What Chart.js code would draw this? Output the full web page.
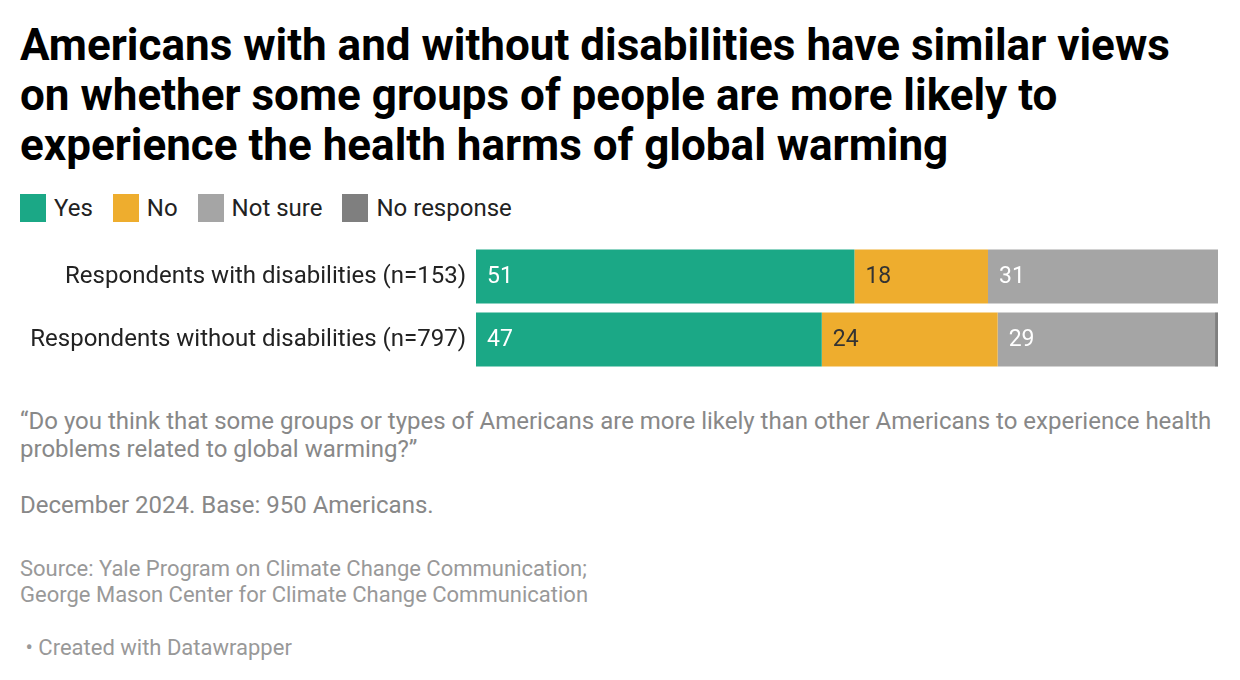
<!DOCTYPE html>
<html lang="en">
<head>
    <title>Disabilities and health harms of global warming</title>
    <script src="https://cdn.jsdelivr.net/npm/chart.js"></script>
    <style>
        body {
            margin: 0;
            background: #ffffff;
            font-family: Roboto, 'Noto Sans', sans-serif;
            width: 1240px;
            height: 680px;
            position: relative;
            overflow: hidden;
        }
        h1 {
            position: absolute;
            left: 20px;
            top: 20px;
            width: 1215px;
            margin: 0;
            font-size: 44px;
            line-height: 50px;
            font-weight: 700;
            color: #000;
        }
        .legend {
            position: absolute;
            left: 20px;
            top: 194px;
            display: flex;
            gap: 20px;
            font-size: 24px;
            color: #222;
        }
        .legend-item { display: flex; align-items: center; }
        .legend-color { width: 26px; height: 28px; margin-right: 8px; }
        #barChart {
            position: absolute;
            left: 20px;
            top: 245px;
        }
        .note {
            position: absolute;
            left: 20px;
            color: #888;
            font-size: 24px;
            line-height: 28px;
            width: 1210px;
        }
    </style>
</head>
<body>
    <h1>Americans with and without disabilities have similar views<br>on whether some groups of people are more likely to<br>experience the health harms of global warming</h1>
    <div class="legend" id="legend"></div>
    <canvas id="barChart" width="1198" height="126"></canvas>
    <div class="note" style="top: 407px;">“Do you think that some groups or types of Americans are more likely than other Americans to experience health problems related to global warming?”</div>
    <div class="note" style="top: 491px;">December 2024. Base: 950 Americans.</div>
    <div class="note" style="top: 556px; font-size: 22px; line-height: 26px; color: #999;">Source: Yale Program on Climate Change Communication;<br>George Mason Center for Climate Change Communication</div>
    <div class="note" style="top: 634px; font-size: 22px; color: #999;">&nbsp;• Created with Datawrapper</div>

    <script>
        const categories = ['Respondents with disabilities (n=153)', 'Respondents without disabilities (n=797)'];
        const seriesNames = ['Yes', 'No', 'Not sure', 'No response'];
        const yesValues = [51, 46.6];
        const noValues = [18, 23.7];
        const notSureValues = [31, 29.3];
        const noResponseValues = [0, 0.4];
        const colors = ['#1ba886', '#eead2e', '#a5a5a5', '#7f7f7f'];
        const labelColors = ['#ffffff', '#333333', '#ffffff', '#ffffff'];

        const allValues = [yesValues, noValues, notSureValues, noResponseValues];

        // Etiquetas de valor dentro de las barras
        const segmentLabels = {
            id: 'segmentLabels',
            afterDatasetsDraw(chart) {
                const ctx = chart.ctx;
                ctx.save();
                ctx.font = '23px Roboto';
                ctx.textBaseline = 'middle';
                ctx.textAlign = 'left';
                chart.data.datasets.forEach((ds, i) => {
                    const meta = chart.getDatasetMeta(i);
                    meta.data.forEach((bar, j) => {
                        const v = ds.data[j];
                        if (v < 5) return;
                        ctx.fillStyle = labelColors[i];
                        const left = Math.min(bar.x, bar.base);
                        ctx.fillText(Math.round(v), left + 11, bar.y + 1);
                    });
                });
                ctx.restore();
            }
        };

        const ctx = document.getElementById('barChart').getContext('2d');
        const chart = new Chart(ctx, {
            type: 'bar',
            data: {
                labels: categories,
                datasets: seriesNames.map((name, i) => ({
                    label: name,
                    data: allValues[i],
                    backgroundColor: colors[i],
                    borderWidth: 0,
                    categoryPercentage: 0.86,
                    barPercentage: 1.0
                }))
            },
            options: {
                indexAxis: 'y',
                responsive: false,
                animation: false,
                layout: { padding: 0 },
                plugins: {
                    legend: { display: false },
                    tooltip: { enabled: false }
                },
                scales: {
                    x: {
                        stacked: true,
                        min: 0,
                        max: 100,
                        display: false
                    },
                    y: {
                        stacked: true,
                        grid: { display: false },
                        border: { display: false },
                        afterFit(scale) {
                            scale.width = 456;
                            scale.paddingTop = 0;
                            scale.paddingBottom = 0;
                        },
                        ticks: {
                            color: '#222',
                            padding: 2,
                            font: { size: 24, family: 'Roboto' }
                        }
                    }
                }
            },
            plugins: [segmentLabels]
        });

        // Leyenda
        const legend = document.getElementById('legend');
        seriesNames.forEach((name, i) => {
            const item = document.createElement('div');
            item.className = 'legend-item';
            item.innerHTML = `<div class="legend-color" style="background:${colors[i]};"></div><span>${name}</span>`;
            legend.appendChild(item);
        });
    </script>
</body>
</html>
